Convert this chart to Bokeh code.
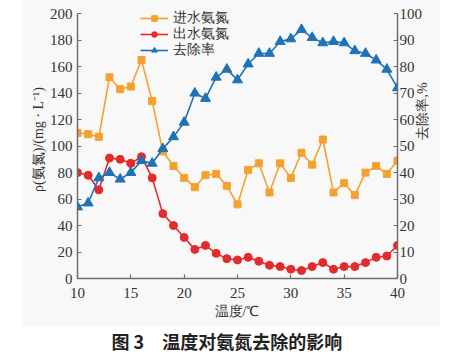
import math
from bokeh.plotting import figure
from bokeh.models import Range1d, LinearAxis, Legend, LegendItem, Label, FixedTicker
from bokeh.layouts import column
from bokeh.embed import file_html
from bokeh.resources import INLINE

# ---- data ----
temperature = list(range(10, 41))
influent = [110, 109, 107, 152, 143, 145, 165, 134, 96, 85,
            76, 69, 78, 79, 70, 56, 82, 87, 65, 87,
            76, 95, 86, 105, 65, 72, 63, 80, 85, 79, 89]
effluent = [80, 78, 67, 91, 90, 87, 92, 76, 49, 40,
            31, 22, 25, 19, 15, 14, 16, 13, 10, 9,
            7, 6, 9, 12, 7, 9, 9, 12, 16, 17, 25]
removal = [27, 28.5, 38, 40, 37.5, 40, 44.5, 43.5, 49, 53.5,
           59, 70, 68, 76, 79, 75, 81, 85, 85, 89.5,
           90.5, 94, 91, 89, 89.5, 89, 86, 85, 82.5, 79, 72]
x_ticks = [10, 15, 20, 25, 30, 35, 40]
left_ticks = list(range(0, 201, 20))
right_ticks = list(range(0, 101, 10))
series_names = ["进水氨氮", "出水氨氮", "去除率"]
x_label = "温度/℃"
left_label = "ρ(氨氮)/(mg · L⁻¹)"
right_label = "去除率,%"
caption = "图 3　温度对氨氮去除的影响"

ORANGE = "#f4a12e"
RED = "#e42a2a"
BLUE = "#1f72b6"
BG = "#f8f8f8"
AXIS = "#6e6e6e"
TXT = "#333333"

FIG_H = 326
# frame extends a little above 200 (axes are bounded) so the legend stays inside it
p = figure(width=418, height=FIG_H, x_range=Range1d(10, 40), y_range=Range1d(0, 210),
           output_backend="svg", toolbar_location=None,
           background_fill_color=BG, border_fill_color=BG,
           min_border_left=55, min_border_right=43, min_border_top=0, min_border_bottom=48)
p.margin = (0, 0, 0, 22)
p.outline_line_color = None
p.grid.visible = False
p.extra_y_ranges = {"rate": Range1d(0, 105)}

r1l = p.line(temperature, influent, line_color=ORANGE, line_width=1.6)
r1s = p.scatter(temperature, influent, marker="square", size=7, fill_color=ORANGE, line_color=ORANGE)
r2l = p.line(temperature, effluent, line_color=RED, line_width=1.6)
r2s = p.scatter(temperature, effluent, marker="circle", size=8, fill_color=RED, line_color=RED)
r3l = p.line(temperature, removal, line_color=BLUE, line_width=1.6, y_range_name="rate")
r3s = p.scatter(temperature, removal, marker="triangle", size=10, fill_color=BLUE, line_color=BLUE,
                y_range_name="rate")

rax = LinearAxis(y_range_name="rate", axis_label=right_label, bounds=(0, 100))
p.add_layout(rax, "right")

p.xaxis.axis_label = x_label
p.yaxis[0].axis_label = left_label
p.yaxis[0].bounds = (0, 200)
p.xaxis.ticker = FixedTicker(ticks=x_ticks)
p.yaxis[0].ticker = FixedTicker(ticks=left_ticks)
rax.ticker = FixedTicker(ticks=right_ticks)

for ax in p.axis:
    ax.axis_line_color = AXIS
    ax.axis_line_width = 1.5
    ax.major_tick_line_color = AXIS
    ax.major_tick_line_width = 1.2
    ax.major_tick_in = 4
    ax.major_tick_out = 0
    ax.minor_tick_line_color = None
    ax.major_label_text_font = "Liberation Serif"
    ax.major_label_text_font_size = "15px"
    ax.major_label_text_color = TXT
    ax.major_label_standoff = 5
    ax.axis_label_text_font = "Liberation Serif"
    ax.axis_label_text_font_size = "14px"
    ax.axis_label_text_font_style = "normal"
    ax.axis_label_text_color = TXT
    ax.axis_label_standoff = 4

p.xaxis.major_label_standoff = 9
p.xaxis.axis_label_standoff = 3
p.yaxis[0].axis_label_standoff = 1
rax.major_label_standoff = 2
rax.axis_label_standoff = -3
if "axis_label_orientation" in rax.properties():
    rax.axis_label_orientation = math.pi / 2

# legend: one row per legend so the rows sit close together
row_bottoms = [251, 235, 219]
renderer_pairs = [[r1l, r1s], [r2l, r2s], [r3l, r3s]]
for name, rends, vy in zip(series_names, renderer_pairs, row_bottoms):
    lg = Legend(items=[LegendItem(label=name, renderers=rends)], location=(63, vy))
    lg.background_fill_alpha = 0
    lg.border_line_color = None
    lg.padding = 0
    lg.margin = 0
    lg.spacing = 0
    lg.glyph_width = 28
    lg.glyph_height = 14
    lg.label_height = 14
    lg.label_standoff = 5
    lg.label_text_font_size = "14px"
    lg.label_text_color = TXT
    lg.label_text_font = "Liberation Serif"
    p.add_layout(lg, "center")

cap = figure(width=461, height=355 - FIG_H, output_backend="svg", toolbar_location=None,
             x_range=Range1d(0, 1), y_range=Range1d(0, 1), min_border=0,
             x_axis_location=None, y_axis_location=None,
             border_fill_color="white", background_fill_color="white")
cap.outline_line_color = None
cap.grid.visible = False
cap.add_layout(Label(x=56, y=15, x_units="screen", y_units="screen", text=caption,
                     text_align="left", text_baseline="middle", text_font_size="18px",
                     text_font_style="bold", text_color="#222222", text_font="Noto Sans CJK SC"))

layout = column(p, cap, spacing=0)
open("out.html", "w").write(file_html(layout, INLINE))
